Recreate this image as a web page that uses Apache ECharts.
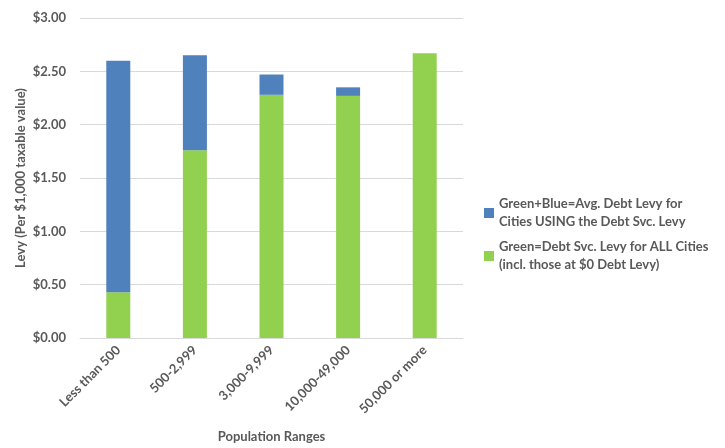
<!DOCTYPE html>
<html>
<head>
<meta charset="utf-8">
<script src="https://cdn.jsdelivr.net/npm/echarts@6/dist/echarts.min.js"></script>
<style>html,body{margin:0;padding:0;background:#fff}#c{width:725px;height:448px}</style>
</head>
<body>
<div id="c"></div>
<script>
var categories = ['Less than 500', '500-2,999', '3,000-9,999', '10,000-49,000', '50,000 or more'];
var greenValues = [0.43, 1.76, 2.28, 2.27, 2.67];
var blueValues = [2.17, 0.89, 0.19, 0.08, 0];
var yTicks = [0, 0.5, 1, 1.5, 2, 2.5, 3];
var blueName = 'Green+Blue=Avg. Debt Levy for\nCities USING the Debt Svc. Levy';
var greenName = 'Green=Debt Svc. Levy for ALL Cities\n(incl. those at $0 Debt Levy)';

var FONT = 'Lato';
var GRAY = '#595959';
var chart = echarts.init(document.getElementById('c'), null, {renderer: 'canvas'});
var legendText = {color: GRAY, fontFamily: FONT, fontWeight: 'bold', fontSize: 13, lineHeight: 18, padding: [18, 0, 0, 0]};
chart.setOption({
  animation: false,
  backgroundColor: '#fff',
  grid: {left: 80, right: 262, top: 18, bottom: 107, containLabel: false},
  legend: [
    {data: [blueName], left: 479, top: 181, orient: 'vertical', itemWidth: 10, itemHeight: 10, itemGap: 4, icon: 'rect', textStyle: legendText, selectedMode: false},
    {data: [greenName], left: 479, top: 224, orient: 'vertical', itemWidth: 10, itemHeight: 10, itemGap: 4, icon: 'rect', textStyle: legendText, selectedMode: false}
  ],
  xAxis: {
    type: 'category',
    data: categories,
    name: 'Population Ranges',
    nameLocation: 'middle',
    nameGap: 92,
    nameMoveOverlap: false,
    nameTextStyle: {color: GRAY, fontFamily: FONT, fontWeight: 'bold', fontSize: 13},
    axisLine: {lineStyle: {color: '#d9d9d9'}},
    axisTick: {show: false},
    axisLabel: {rotate: 45, color: GRAY, fontFamily: FONT, fontWeight: 'bold', fontSize: 13, margin: 10, interval: 0}
  },
  yAxis: {
    type: 'value',
    min: yTicks[0],
    max: yTicks[yTicks.length - 1],
    interval: yTicks[1] - yTicks[0],
    name: 'Levy (Per $1,000 taxable value)',
    nameLocation: 'middle',
    nameGap: 53,
    nameMoveOverlap: false,
    nameTextStyle: {color: GRAY, fontFamily: FONT, fontWeight: 'bold', fontSize: 13},
    axisLine: {show: false},
    axisTick: {show: false},
    splitLine: {lineStyle: {color: '#d9d9d9'}},
    axisLabel: {color: GRAY, fontFamily: FONT, fontWeight: 'bold', fontSize: 13, margin: 14,
      formatter: function (v) { return '$' + v.toFixed(2); }}
  },
  series: [
    {name: greenName, type: 'bar', stack: 'levy', data: greenValues, barWidth: 24,
      itemStyle: {color: '#92D050'}},
    {name: blueName, type: 'bar', stack: 'levy', data: blueValues, barWidth: 24,
      itemStyle: {color: '#4F81BD'}}
  ]
});
</script>
</body>
</html>
